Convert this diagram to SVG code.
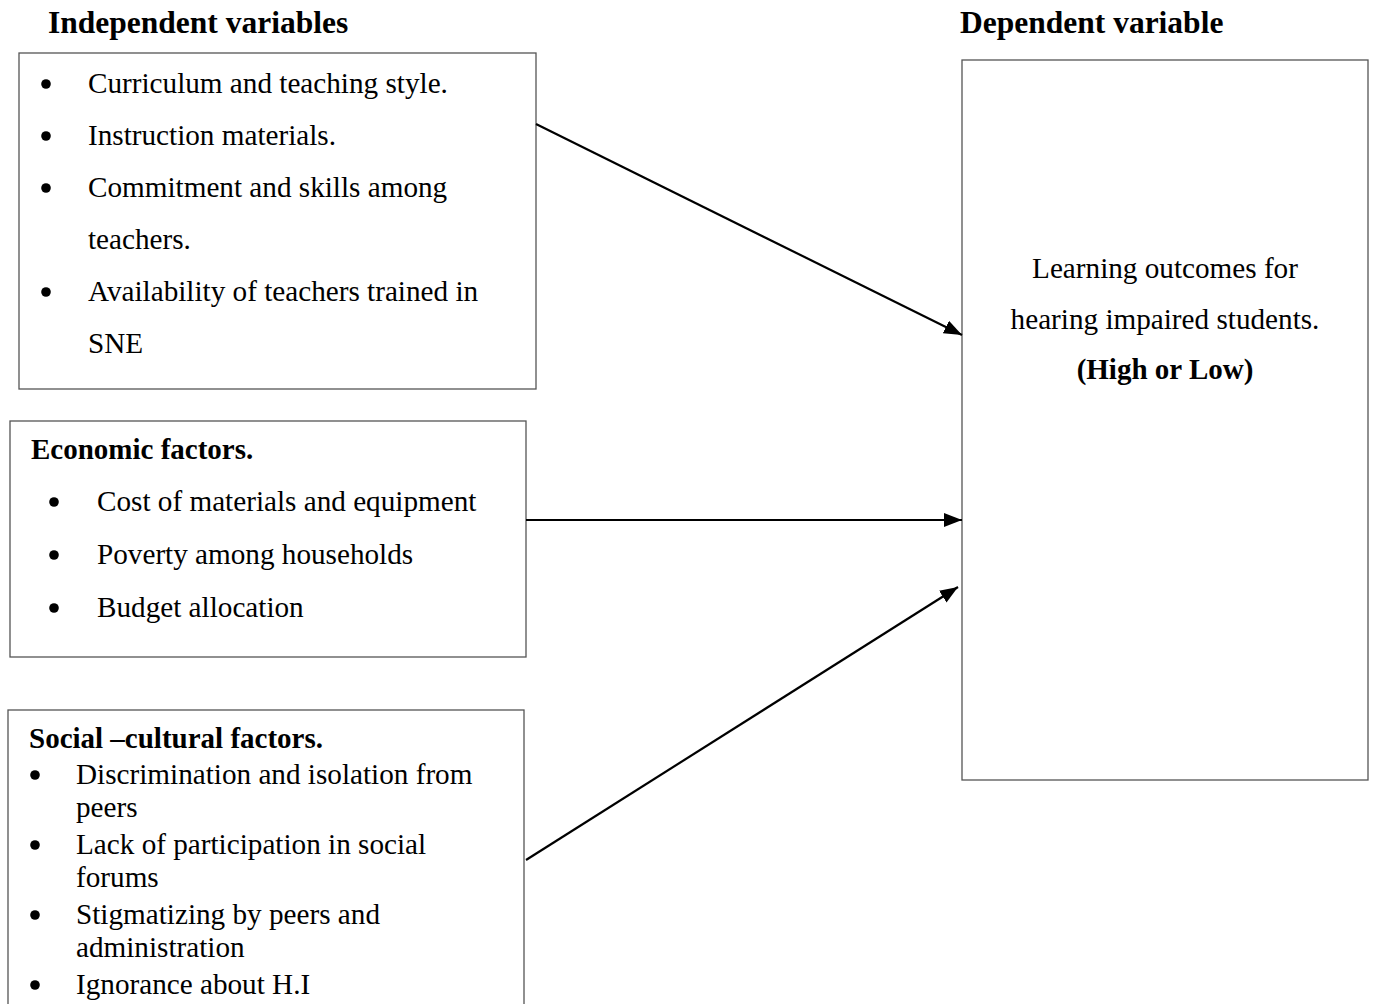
<svg xmlns="http://www.w3.org/2000/svg" width="1374" height="1004" viewBox="0 0 1374 1004">
<defs>
<style>
text{font-family:"Liberation Serif","Times New Roman",serif;fill:#000;}
.t{font-size:29.2px;}
.h{font-size:31.5px;font-weight:bold;}
.b{font-size:29px;font-weight:bold;}
.box{fill:#fff;stroke:#555;stroke-width:1.3;}
.c{stroke:#000;stroke-width:2.2;fill:none;marker-end:url(#ah);}
</style>
<marker id="ah" viewBox="0 0 18 14" refX="18" refY="7" markerWidth="18" markerHeight="14" markerUnits="userSpaceOnUse" orient="auto">
<path d="M0,0 L18,7 L0,14 z" fill="#000"/>
</marker>
</defs>
<rect width="1374" height="1004" fill="#fff"/>
<text class="h" x="48" y="33">Independent variables</text>
<text class="h" x="960" y="33">Dependent variable</text>
<g id="node-school">
<rect class="box" x="19" y="53" width="517" height="336"/>
<g class="t">
<circle cx="46" cy="84" r="4.8"/><text x="88" y="93">Curriculum and teaching style.</text>
<circle cx="46" cy="136" r="4.8"/><text x="88" y="145">Instruction materials.</text>
<circle cx="46" cy="188" r="4.8"/><text x="88" y="197">Commitment and skills among</text>
<text x="88" y="249">teachers.</text>
<circle cx="46" cy="292" r="4.8"/><text x="88" y="301">Availability of teachers trained in</text>
<text x="88" y="353">SNE</text>
</g>
</g>
<g id="node-economic">
<rect class="box" x="10" y="421" width="516" height="236"/>
<text class="b" x="31" y="459">Economic factors.</text>
<g class="t">
<circle cx="54" cy="502" r="4.8"/><text x="97" y="511">Cost of materials and equipment</text>
<circle cx="54" cy="555" r="4.8"/><text x="97" y="564">Poverty among households</text>
<circle cx="54" cy="608" r="4.8"/><text x="97" y="617">Budget allocation</text>
</g>
</g>
<g id="node-social">
<rect class="box" x="8" y="710" width="516" height="300"/>
<text class="b" x="29" y="748">Social –cultural factors.</text>
<g class="t">
<circle cx="35" cy="775" r="4.8"/><text x="76" y="784">Discrimination and isolation from</text>
<text x="76" y="817">peers</text>
<circle cx="35" cy="845" r="4.8"/><text x="76" y="854">Lack of participation in social</text>
<text x="76" y="887">forums</text>
<circle cx="35" cy="915" r="4.8"/><text x="76" y="924">Stigmatizing by peers and</text>
<text x="76" y="957">administration</text>
<circle cx="35" cy="985" r="4.8"/><text x="76" y="994">Ignorance about H.I</text>
</g>
</g>
<g id="node-outcome">
<rect class="box" x="962" y="60" width="406" height="720"/>
<text class="t" x="1165" y="278" text-anchor="middle">Learning outcomes for</text>
<text class="t" x="1165" y="329" text-anchor="middle">hearing impaired students.</text>
<text class="b" x="1165" y="379" text-anchor="middle">(High or Low)</text>
</g>
<g id="connectors">
<line class="c" x1="536" y1="124" x2="962" y2="335"/>
<line class="c" x1="526" y1="520" x2="962" y2="520"/>
<line class="c" x1="526" y1="860" x2="958" y2="587"/>
</g>
</svg>
